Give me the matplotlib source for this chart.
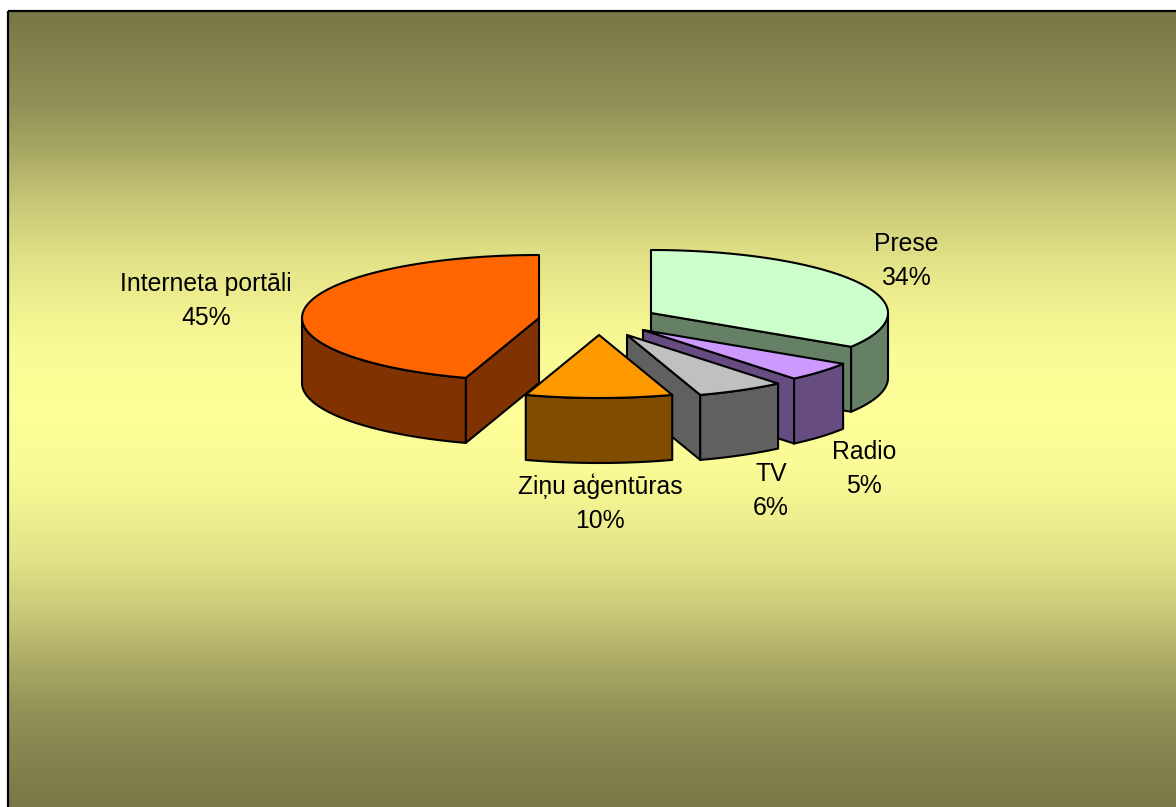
import numpy as np
import matplotlib
matplotlib.use("Agg")
import matplotlib.pyplot as plt
from matplotlib.colors import LinearSegmentedColormap
from matplotlib.patches import Polygon, Rectangle

categories = ["Prese", "Radio", "TV", "Ziņu aģentūras", "Interneta portāli"]
values = [34, 5, 6, 10, 45]
top_colors = ["#CCFFCC", "#CC99FF", "#C0C0C0", "#FF9900", "#FF6600"]
side_colors = ["#668066", "#664C80", "#606060", "#804C00", "#803300"]
centers = [(651, 313), (643, 330), (627, 335), (599, 335), (539, 318)]
label_pos = [(906, 261), (864, 469), (771, 491), (600, 503), (206, 301)]
draw_order = [0, 1, 2, 4, 3]

RX, RY, DEPTH = 237, 63, 65
W, H = 1176, 807

plt.rcParams["font.family"] = ["Liberation Sans", "DejaVu Sans"]
fig = plt.figure(figsize=(W / 100, H / 100), dpi=100, facecolor="white")
ax = fig.add_axes([0, 0, 1, 1])
ax.set_xlim(0, W)
ax.set_ylim(H, 0)
ax.axis("off")

half_pos = [0, .22, .35, .47, .6, .72, .85, 1]
half_val = [120, 143, 168, 197, 222, 238, 250, 255]
stops = [(p / 2, (v / 255, v / 255, 0.6 * v / 255)) for p, v in zip(half_pos, half_val)]
stops += [(1 - p / 2, (v / 255, v / 255, 0.6 * v / 255)) for p, v in zip(half_pos[-2::-1], half_val[-2::-1])]
cmap = LinearSegmentedColormap.from_list("bg", stops, N=512)
grad = np.linspace(0, 1, 797)[:, None]
ax.imshow(grad, cmap=cmap, extent=(8, W + 2, H, 11), aspect="auto", zorder=0,
          interpolation="bilinear")
ax.set_xlim(0, W)
ax.set_ylim(H, 0)
ax.add_patch(Rectangle((8, 11), W, H, fill=False, ec="black", lw=1.6, zorder=1))


def pt(c, deg):
    a = np.radians(deg)
    return np.array([c[0] + RX * np.sin(a), c[1] - RY * np.cos(a)])


def arc(c, a0, a1, n=60):
    return np.array([pt(c, t) for t in np.linspace(a0, a1, n)])


edges = np.concatenate([[0], np.cumsum(values)]) * 360 / sum(values)
line = dict(ec="black", lw=1.5, joinstyle="round")
z = 2
for i in draw_order:
    a0, a1 = edges[i], edges[i + 1]
    c = np.array(centers[i], float)
    down = np.array([0, DEPTH])
    # radial cut faces that look towards the viewer
    if a1 < 180:
        p = pt(c, a1)
        ax.add_patch(Polygon([c, p, p + down, c + down], fc=side_colors[i], zorder=z, **line))
    if a0 > 180:
        p = pt(c, a0)
        ax.add_patch(Polygon([c, p, p + down, c + down], fc=side_colors[i], zorder=z, **line))
    # outer wall on the front half of the ellipse
    lo, hi = max(a0, 90), min(a1, 270)
    if hi > lo:
        rim = arc(c, lo, hi)
        ax.add_patch(Polygon(np.vstack([rim, rim[::-1] + down]), fc=side_colors[i], zorder=z, **line))
    # top face
    ax.add_patch(Polygon(np.vstack([[c], arc(c, a0, a1, 120)]), fc=top_colors[i], zorder=z, **line))
    z += 1

for name, val, (x, y) in zip(categories, values, label_pos):
    ax.text(x, y, f"{name}\n{val}%", ha="center", va="center", fontsize=17.8,
            color="black", linespacing=1.5, zorder=20)

fig.savefig("out.png", dpi=100, facecolor="white")
